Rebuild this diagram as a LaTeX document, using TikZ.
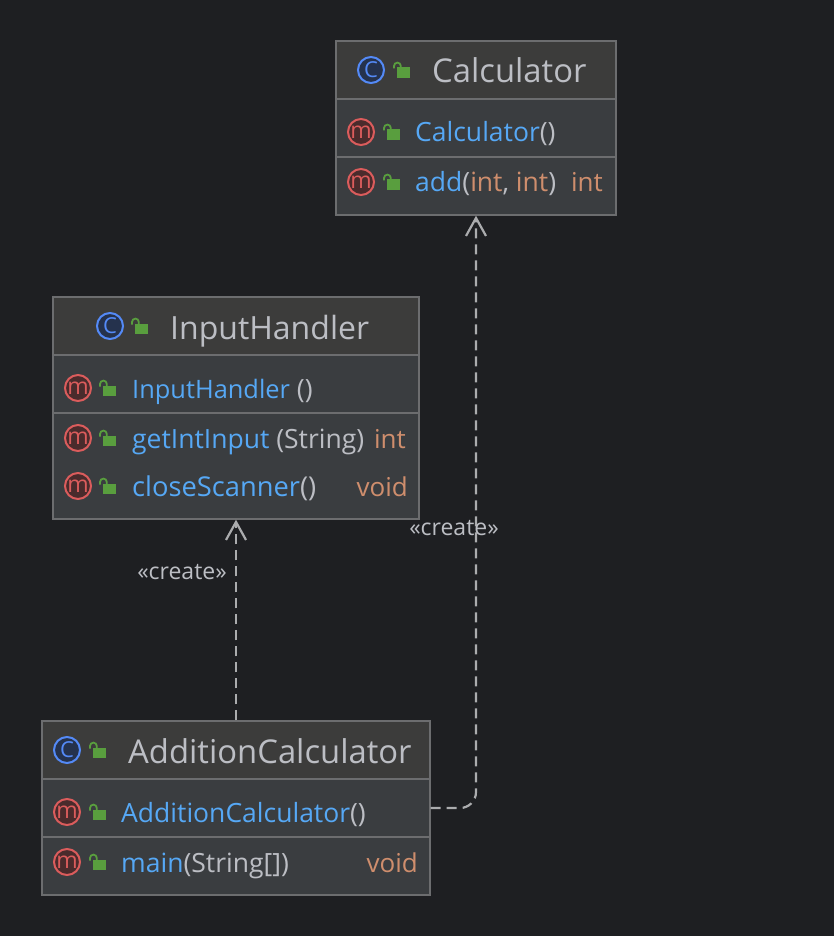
\documentclass[tikz,border=0pt]{standalone}
\usepackage{fontspec}
\setmainfont{Open Sans}
\usetikzlibrary{arrows.meta}
\definecolor{bgc}{HTML}{1E1F22}
\definecolor{headc}{HTML}{3C3C3B}
\definecolor{bodyc}{HTML}{3A3D40}
\definecolor{edgec}{HTML}{6C6D6F}
\definecolor{namec}{HTML}{56A8F5}
\definecolor{textc}{HTML}{BCBEC4}
\definecolor{typec}{HTML}{CF8E6D}
\definecolor{lockc}{HTML}{599E3E}
\definecolor{cfill}{HTML}{25324D}
\definecolor{cline}{HTML}{548AF7}
\definecolor{mfill}{HTML}{4A2B2C}
\definecolor{mline}{HTML}{DB5C5C}
\definecolor{linec}{HTML}{ABACAE}
\newcommand{\nm}[1]{\textcolor{namec}{#1}}
\newcommand{\ty}[1]{\textcolor{typec}{#1}}
% lock icon: #1 = left x of the body, #2 = bottom y of the body
\newcommand{\lockicon}[2]{%
  \fill[lockc] (#1,#2) rectangle ++(12.5,-10.5);
  \draw[lockc,line width=1.8pt] (#1-3,#2-9.5) -- ++(0,-2.5) arc[start angle=180,end angle=360,radius=3.4] -- ++(0,2.5);
}
\newcommand{\cicon}[2]{\node[iconc] at (#1,#2) {C};}
\newcommand{\micon}[2]{\node[iconm] at (#1,#2) {m};}
\newcommand{\headerband}[4]{%
  \fill[headc] (#1,#2) rectangle (#3,#4);
  \draw[edgec,line width=1.6pt] (#1,#4) -- (#3,#4);
}
\tikzset{
  x=1pt,y=-1pt,
  umlbox/.style={draw=edgec,fill=bodyc,line width=1.4pt,inner sep=0pt},
  titletext/.style={anchor=base west,inner sep=0pt,text=textc,font=\fontsize{32.8}{36}\selectfont},
  membertext/.style={anchor=base west,inner sep=0pt,text=textc,font=\fontsize{26.5}{30}\selectfont},
  typetext/.style={anchor=base east,inner sep=0pt,text=typec,font=\fontsize{26}{30}\selectfont},
  labeltext/.style={inner sep=0pt,text=textc,font=\fontsize{23}{26}\selectfont},
  iconc/.style={circle,draw=cline,fill=cfill,line width=2pt,minimum size=26pt,inner sep=0pt,text=cline,font=\fontsize{22}{22}\selectfont},
  iconm/.style={circle,draw=mline,fill=mfill,line width=2pt,minimum size=26pt,inner sep=0pt,text=mline,font=\fontsize{23}{23}\selectfont},
  dep/.style={draw=linec,line width=2.2pt,dash pattern=on 10pt off 6pt,-{Straight Barb[length=18pt,width=20pt,line width=2.2pt]}},
}
\begin{document}
\begin{tikzpicture}
\useasboundingbox[fill=bgc] (0,0) rectangle (834,936);

% ---- Calculator
\node[umlbox,minimum width=280pt,minimum height=174pt] (calc) at (476,128) {};
\headerband{336.7}{41.7}{615.3}{99}
\draw[edgec,line width=1.6pt] (336.7,157) -- (615.3,157);
\cicon{371}{70}
\lockicon{397}{78}
\node[titletext] (calctitle) at (432,83) {Calculator};
\micon{361}{132}
\lockicon{387}{140}
\node[membertext] (calcm1) at (415,142) {\nm{Calculator}()};
\micon{361}{182}
\lockicon{387}{190}
\node[membertext] (calcm2) at (415,192) {\nm{add}(\ty{int}, \ty{int})};
\node[typetext] (calct2) at (603,192) {int};

% ---- InputHandler
\node[umlbox,minimum width=366pt,minimum height=222pt] (ih) at (236,408) {};
\headerband{53.7}{297.7}{418.3}{355}
\draw[edgec,line width=1.6pt] (53.7,413) -- (418.3,413);
\cicon{110}{326}
\lockicon{135}{334}
\node[titletext,font=\fontsize{32}{36}\selectfont] (ihtitle) at (170,339) {InputHandler};
\micon{78}{388}
\lockicon{103}{396}
\node[membertext] (ihm1) at (132,398) {\nm{\fontsize{25.4}{30}\selectfont InputHandler} ()};
\micon{78}{438}
\lockicon{103}{446}
\node[membertext] (ihm2) at (132,448) {\nm{getIntInput} (String)};
\node[typetext] (iht2) at (406,448) {int};
\micon{78}{486}
\lockicon{103}{494}
\node[membertext,font=\fontsize{27.3}{30}\selectfont] (ihm3) at (132,496) {\nm{closeScanner}()};
\node[typetext] (iht3) at (408,496) {void};

% ---- AdditionCalculator
\node[umlbox,minimum width=388pt,minimum height=174pt] (ac) at (236,808) {};
\headerband{42.7}{721.7}{429.3}{779}
\draw[edgec,line width=1.6pt] (42.7,837) -- (429.3,837);
\cicon{67}{750}
\lockicon{93}{758}
\node[titletext] (actitle) at (128,763) {AdditionCalculator};
\micon{67}{812}
\lockicon{93}{820}
\node[membertext] (acm1) at (121,822) {\nm{AdditionCalculator}()};
\micon{67}{862}
\lockicon{93}{870}
\node[membertext] (acm2) at (121,872) {\nm{main}(String[])};
\node[typetext] (act2) at (418,872) {void};

% ---- connectors
\draw[dep] (ac.north) -- (ih.south);
\draw[dep,rounded corners=16pt] (ac.east) -- (ac.east -| calc.south) -- (calc.south);
\node[labeltext] (lab1) at (182,572) {«create»};
\node[labeltext] (lab2) at (454,528) {«create»};
\end{tikzpicture}
\end{document}
